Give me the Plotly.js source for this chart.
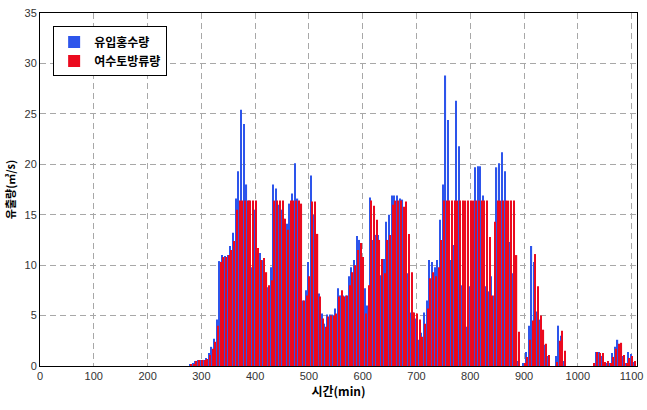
<!DOCTYPE html>
<html>
<head>
<meta charset="utf-8">
<script src="https://cdn.plot.ly/plotly-3.0.1.min.js"></script>
<style>
  html, body { margin: 0; padding: 0; background: #ffffff; }
  #chart { width: 647px; height: 410px; }
</style>
</head>
<body>
<div id="chart"></div>
<script>
// Time (min), 5-minute steps
const times = [
  280,285,290,295,300,305,310,315,320,325,330,335,340,345,350,355,360,365,370,375,
  380,385,390,395,400,405,410,415,420,425,430,435,440,445,450,455,460,465,470,475,
  480,485,490,495,500,505,510,515,520,525,530,535,540,545,550,555,560,565,570,575,
  580,585,590,595,600,605,610,615,620,625,630,635,640,645,650,655,660,665,670,675,
  680,685,690,695,700,705,710,715,720,725,730,735,740,745,750,755,760,765,770,775,
  780,785,790,795,800,805,810,815,820,825,830,835,840,845,850,855,860,865,870,875,
  880,885,890,895,900,905,910,915,920,925,930,935,940,945,950,955,960,965,970,975,
  980,985,990,995,1000,1005,1010,1015,1020,1025,1030,1035,1040,1045,1050,1055,1060,1065,1070,1075,
  1080,1085,1090,1095,1100,1105
];

// 유입홍수량 (inflow)
const inflow = [
  0.1,0.3,0.5,0.6,0.6,0.6,0.8,1.3,1.9,2.7,4.6,10.4,11.0,10.9,11.0,11.9,13.2,16.6,19.3,25.4,
  24.0,18.0,16.4,9.8,15.5,11.5,11.2,10.5,9.0,7.8,9.8,18.0,17.6,16.0,15.5,14.6,14.1,16.1,17.1,20.1,
  16.6,6.6,6.5,7.5,10.3,18.9,15.0,12.5,7.2,5.2,4.2,5.1,5.1,5.1,5.7,7.7,7.0,7.0,7.0,8.9,
  9.8,10.5,12.9,12.5,10.2,7.7,6.0,16.7,12.5,13.0,13.0,9.0,10.6,14.3,15.0,16.9,16.9,16.9,16.6,16.5,
  13.1,9.2,5.3,5.3,4.7,2.6,3.3,5.3,6.5,10.5,10.3,9.8,10.5,14.5,18.0,28.8,24.4,10.5,12.0,26.3,
  21.8,8.0,6.9,3.9,7.9,11.4,19.7,19.8,19.8,16.9,7.9,7.4,8.9,7.0,19.7,20.1,21.2,19.3,13.5,12.3,
  9.2,6.5,0.5,0,0.3,1.4,4.0,11.9,10.3,5.4,4.6,2.6,2.1,1.0,0,0,1.0,4.0,3.0,0.5,
  0,0,0,0,0,0,0,0,0,0,0,1.4,1.4,1.0,0.4,0.3,0.3,1.3,1.9,2.6,
  2.0,1.0,0.3,1.4,1.2,0.4
];

// 여수토방류량 (spillway discharge)
const outflow = [
  0.1,0.2,0.5,0.6,0.6,0.6,0.7,1.1,1.7,2.4,4.0,10.3,10.8,10.8,11.0,11.5,12.4,15.5,16.4,16.4,
  16.4,16.4,16.4,16.4,16.4,11.7,10.5,10.7,9.3,8.0,8.5,16.4,16.4,16.4,16.4,14.6,13.5,16.4,16.4,16.4,
  16.4,16.1,6.5,7.0,8.9,16.3,16.3,13.1,6.9,4.7,3.9,4.9,5.0,5.0,5.2,6.9,7.5,6.9,7.0,8.0,
  9.3,10.0,11.5,12.2,10.8,5.2,8.0,16.4,15.9,14.5,12.5,10.6,9.2,12.5,13.0,16.0,16.4,16.4,16.4,15.8,
  16.3,13.1,9.3,5.3,5.2,4.6,2.9,4.2,5.7,8.7,9.3,8.9,9.8,12.5,16.4,16.4,16.4,16.4,16.4,16.4,
  16.4,16.4,16.4,16.4,16.4,16.4,16.4,16.4,16.4,16.4,16.4,12.8,7.0,14.3,16.4,16.4,16.4,16.4,16.4,16.4,
  16.4,11.0,3.4,0,0.3,0.9,2.6,4.5,11.1,7.9,5.0,3.6,2.2,1.1,0,0,0.4,2.5,3.5,1.5,
  0,0,0,0,0,0,0,0,0,0,0.3,1.4,1.3,1.3,0.4,0.5,0.3,0.9,1.7,2.2,
  2.3,1.1,0.3,0.8,1.0,0.5
];

const seriesNames = ['유입홍수량', '여수토방류량'];
const xTicks = [0,100,200,300,400,500,600,700,800,900,1000,1100];
const yTicks = [0,5,10,15,20,25,30,35];

const FONT = 'Liberation Sans, Arial, Noto Sans CJK KR, sans-serif';
const KFONT = 'Noto Sans CJK KR, Liberation Sans, sans-serif';

const traces = [
  {
    type: 'bar', x: times, y: inflow, name: '<b>' + seriesNames[0] + '</b>',
    marker: { color: 'rgb(45,85,235)' }
  },
  {
    type: 'bar', x: times, y: outflow, name: '<b>' + seriesNames[1] + '</b>',
    marker: { color: 'rgb(235,10,30)' }
  }
];

const layout = {
  width: 647, height: 410,
  margin: { l: 40, r: 10, t: 13, b: 44 },
  paper_bgcolor: '#ffffff', plot_bgcolor: '#ffffff',
  font: { family: FONT, size: 11, color: '#333333' },
  barmode: 'group', bargap: 0.1, bargroupgap: 0,
  showlegend: true,
  legend: {
    x: 0.022, y: 0.962, xanchor: 'left', yanchor: 'top',
    bgcolor: '#ffffff', bordercolor: '#000000', borderwidth: 1,
    font: { family: KFONT, size: 12, color: '#000000' },
    itemwidth: 30
  },
  xaxis: {
    range: [0, 1110], tickvals: xTicks, ticktext: xTicks.map(String),
    showgrid: true, gridcolor: '#a8a8a8', griddash: '6px,4px', gridwidth: 1,
    showline: true, linecolor: '#000000', linewidth: 1, mirror: true,
    zeroline: false, ticks: '',
    tickfont: { family: FONT, size: 11, color: '#333333' },
    title: { text: '<b>시간(min)</b>', font: { family: KFONT, size: 12, color: '#000000' }, standoff: 4 }
  },
  yaxis: {
    range: [0, 35], tickvals: yTicks, ticktext: yTicks.map(String),
    showgrid: true, gridcolor: '#a8a8a8', griddash: '6px,4px', gridwidth: 1,
    showline: true, linecolor: '#000000', linewidth: 1, mirror: true,
    zeroline: false, ticks: '',
    tickfont: { family: FONT, size: 11, color: '#333333' },
    title: { text: '<b>유출량(㎥/s)</b>', font: { family: KFONT, size: 11, color: '#000000' }, standoff: 6 }
  }
};

Plotly.newPlot('chart', traces, layout, { displayModeBar: false, staticPlot: false });
</script>
</body>
</html>
